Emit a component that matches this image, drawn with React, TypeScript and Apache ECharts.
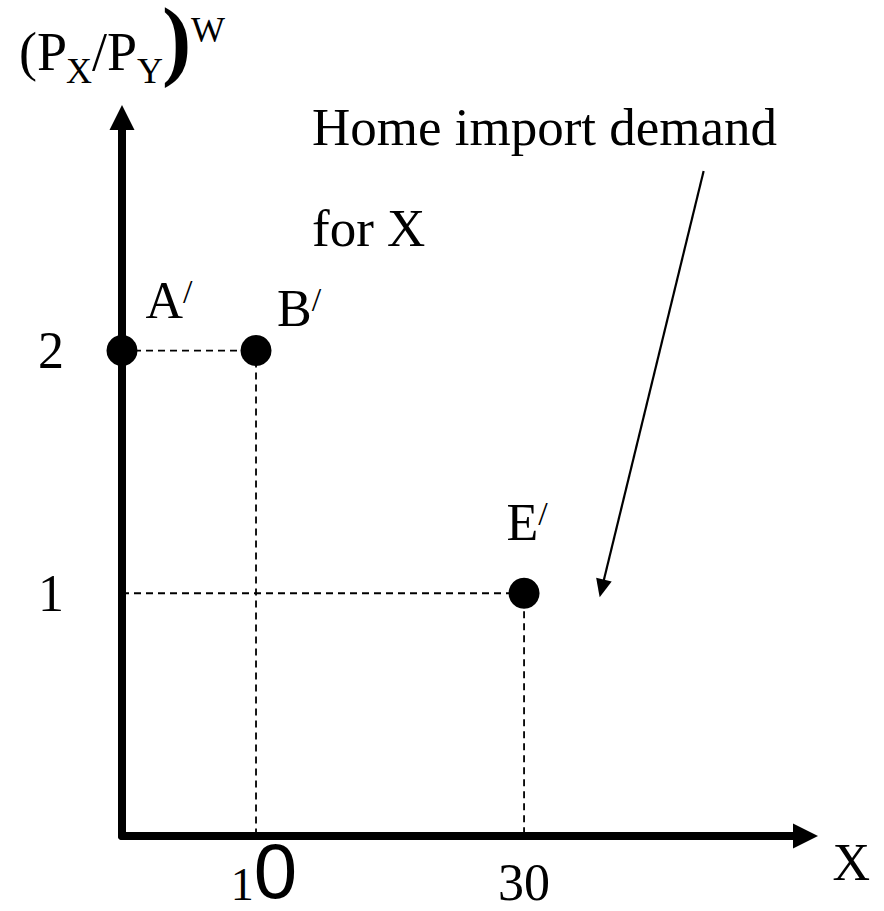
import React, { useEffect, useRef } from "react";
import * as echarts from "echarts";

// ---- data ----
const pointNames = ["A", "B", "E"];
const pointX = [0, 10, 30];
const pointY = [2, 2, 1];
const xTickValues = [10, 30];
const yTickValues = [1, 2];
const axisXName = "X";
const annotationLines = ["Home import demand", "for X"];
// annotation arrow (data units): from the caption towards the demand curve
const arrowStart = [43.4, 2.74];
const arrowEnd = [35.8, 1.02];

// ---- styles / layout ----
const SERIF = "Liberation Serif, Times New Roman, serif";
const SANS = "Liberation Sans, Arial, sans-serif";
const labelOffsets: Record<string, number[]> = {
  A: [47, -50],
  B: [43, -42],
  E: [3, -71],
};

function txt(x: number, y: number, text: string, size: number, weight = "normal", lh?: number) {
  return {
    type: "text",
    x,
    y,
    silent: true,
    style: {
      text,
      fill: "#000",
      font: `${weight} ${size}px ${SERIF}`,
      lineHeight: lh ?? size,
      textAlign: "left",
      textVerticalAlign: "middle",
      align: "left",
      verticalAlign: "middle",
    },
  };
}

export default function App() {
  const ref = useRef<HTMLDivElement>(null);

  useEffect(() => {
    if (!ref.current) return;
    const chart = echarts.init(ref.current, undefined, { renderer: "svg" });

    const guideSeries = pointX
      .map((x, i) => ({ x, y: pointY[i] }))
      .filter((p) => p.x > 0)
      .map((p) => ({
        type: "line",
        data: [
          [0, p.y],
          [p.x, p.y],
          [p.x, 0],
        ],
        symbol: "none",
        clip: false,
        silent: true,
        z: 1,
        lineStyle: { color: "#000", width: 1.8, type: [7, 5] },
      }));

    const axisLine = {
      show: true,
      symbol: ["none", "triangle"],
      symbolSize: [25, 25],
      lineStyle: { color: "#000", width: 8 },
    };

    const option: any = {
      animation: false,
      backgroundColor: "#fff",
      grid: {
        left: 122,
        right: 78.5,
        top: 117.5,
        bottom: 75,
        containLabel: false,
        outerBoundsMode: "none",
      },
      xAxis: {
        type: "value",
        min: 0,
        max: 51,
        axisLine,
        axisTick: { show: false },
        splitLine: { show: false },
        axisLabel: {
          customValues: xTickValues,
          margin: 22,
          formatter: (v: number) => {
            const s = String(v);
            if (v === xTickValues[0]) return `{one|${s[0]}}{zero|${s.slice(1)}}`;
            return `{n|${s}}`;
          },
          rich: {
            one: { fontFamily: SERIF, fontSize: 46, lineHeight: 52, color: "#000", padding: [0, 0, 0, 16] },
            zero: { fontFamily: SANS, fontSize: 78, lineHeight: 52, verticalAlign: "bottom", color: "#000" },
            n: { fontFamily: SERIF, fontSize: 52, lineHeight: 48, color: "#000" },
          },
        },
        name: axisXName,
        nameLocation: "end",
        nameGap: 27,
        nameTextStyle: {
          fontFamily: SERIF,
          fontSize: 52,
          lineHeight: 52,
          color: "#000",
          align: "left",
          verticalAlign: "top",
          padding: [0, 0, 0, 0],
        },
      },
      yAxis: {
        type: "value",
        min: 0,
        max: 2.96,
        axisLine,
        axisTick: { show: false },
        splitLine: { show: false },
        axisLabel: {
          customValues: yTickValues,
          margin: 58,
          fontFamily: SERIF,
          fontSize: 52,
          color: "#000",
        },
      },
      series: [
        ...guideSeries,
        {
          type: "scatter",
          symbol: "circle",
          symbolSize: 31,
          clip: false,
          silent: true,
          z: 5,
          itemStyle: { color: "#000", opacity: 1 },
          data: pointX.map((x, i) => ({
            value: [x, pointY[i]],
            name: pointNames[i],
            label: { offset: labelOffsets[pointNames[i]] },
          })),
          label: {
            show: true,
            position: "inside",
            color: "#000",
            opacity: 1,
            formatter: (p: any) => `{m|${p.name}}{p|/}`,
            rich: {
              m: { fontFamily: SERIF, fontSize: 52, lineHeight: 52, color: "#000" },
              p: { fontFamily: SERIF, fontSize: 34, lineHeight: 14, verticalAlign: "top", color: "#000" },
            },
          },
          markLine: {
            silent: true,
            symbol: ["none", "triangle"],
            symbolSize: [16, 18],
            label: { show: false },
            lineStyle: { color: "#000", width: 2.2, type: "solid", opacity: 1 },
            itemStyle: { color: "#000", opacity: 1 },
            emphasis: { disabled: true },
            data: [[{ coord: arrowStart }, { coord: arrowEnd }]],
          },
        },
      ],
      graphic: [
        txt(19, 52, "(P", 54),
        txt(66, 71, "X", 36),
        txt(92, 52, "/P", 54),
        txt(137, 71, "Y", 36),
        txt(162, 39, ")", 88, "bold", 66),
        txt(191, 30, "W", 36),
        txt(312, 127, annotationLines[0], 53),
        txt(312, 228, annotationLines[1], 53),
      ],
    };

    chart.setOption(option);
    return () => chart.dispose();
  }, []);

  return (
    <div
      ref={ref}
      style={{ position: "fixed", left: 0, top: 0, width: 884, height: 911, background: "#fff" }}
    />
  );
}
